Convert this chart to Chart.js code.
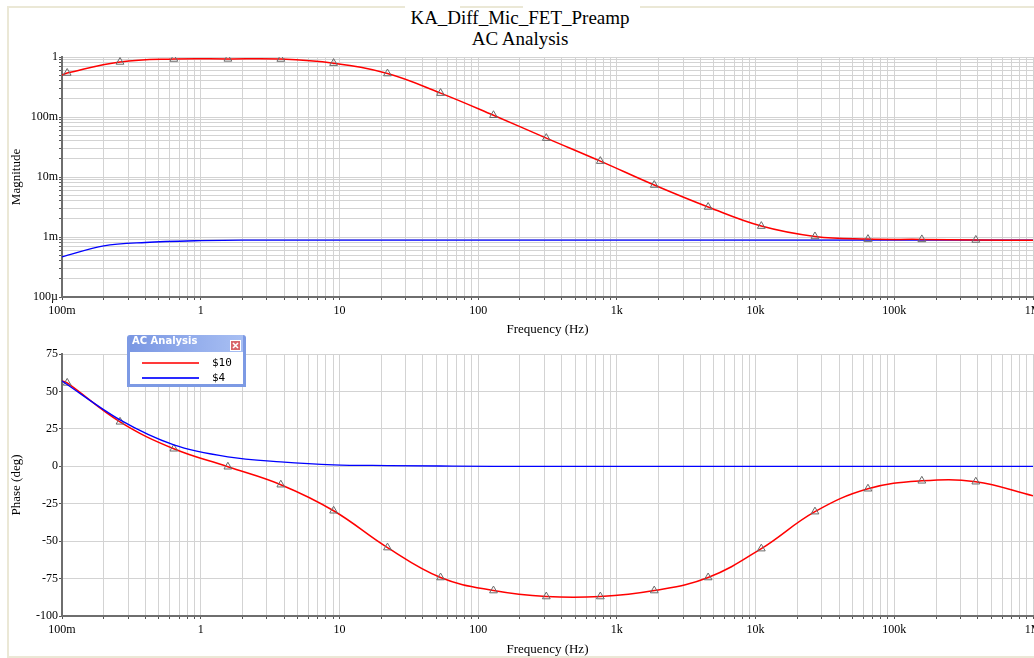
<!DOCTYPE html>
<html><head><meta charset="utf-8">
<script src="https://cdn.jsdelivr.net/npm/chart.js@4.4.1/dist/chart.umd.min.js"></script>
<style>
html,body{margin:0;padding:0;background:#fff;width:1034px;height:658px;overflow:hidden;position:relative;font-family:'Liberation Serif',serif;}
.frame{position:absolute;background:#ebe8d6;}
.title{position:absolute;left:0;width:1040px;text-align:center;font:19px 'Liberation Serif',serif;color:#000;line-height:22px;}
canvas{position:absolute;left:0;}
#leg{position:absolute;left:127px;top:335px;width:119px;height:52px;background:#7d9ae4;border-radius:3px 3px 0 0;z-index:5;}
#legT{position:absolute;left:3px;top:0;height:17px;line-height:18px;font:bold 10px 'DejaVu Sans',sans-serif;color:#fff;background:linear-gradient(to right,#7a97e3,#a8bff3);width:113px;padding-left:2px;box-sizing:border-box;}
#legX{position:absolute;left:103px;top:5px;width:11px;height:11px;background:#d8656a;border:1px solid #fff;box-sizing:border-box;}
#legB{position:absolute;left:3px;top:17px;width:113px;height:32px;background:#fff;}
.ln{position:absolute;left:12px;width:57px;height:2px;}
.lt{position:absolute;left:82px;font:11px 'DejaVu Sans Mono',monospace;color:#000;line-height:13px;}
</style></head>
<body>
<div class="frame" style="left:7px;top:6px;width:2px;height:652px;"></div>
<div class="frame" style="left:7px;top:6px;width:398px;height:2px;"></div>
<div class="frame" style="left:460px;top:6px;width:63px;height:2px;"></div>
<div class="frame" style="left:640px;top:6px;width:394px;height:2px;"></div>
<div class="frame" style="left:7px;top:656px;width:1027px;height:2px;"></div>
<div class="title" style="top:7px">KA_Diff_Mic_FET_Preamp</div>
<div class="title" style="top:28px">AC Analysis</div>
<canvas id="c1" width="1034" height="340" style="top:0"></canvas>
<canvas id="c2" width="1034" height="318" style="top:340px"></canvas>
<div id="leg">
  <div id="legT">AC Analysis</div>
  <div id="legX"><svg width="9" height="9" style="position:absolute;left:0;top:0"><path d="M2 2L7 7M7 2L2 7" stroke="#fff" stroke-width="1.6"/></svg></div>
  <div id="legB">
    <div class="ln" style="top:10px;background:#ff3a3a;"></div>
    <div class="lt" style="top:4px;">$10</div>
    <div class="ln" style="top:25px;background:#2a2aff;"></div>
    <div class="lt" style="top:19px;">$4</div>
  </div>
</div>
<script>
// ---- tick labels / positions ----
const xDecades = [0.1, 1, 10, 100, 1e3, 1e4, 1e5, 1e6];
const xDecadeLabels = ['100m', '1', '10', '100', '1k', '10k', '100k', '1M'];
const magDecades = [1e-4, 1e-3, 1e-2, 1e-1, 1];
const magDecadeLabels = ['100µ', '1m', '10m', '100m', '1'];

// ---- $10 (red) series ----
const redFreqs = [0.1, 0.109, 0.262, 0.64, 1.57, 3.78, 9.08, 22.2, 53.6, 129, 310, 760, 1860, 4550, 11000, 26800, 64600, 158000, 387000, 1000000];
const redMag = [0.50, 0.541, 0.826, 0.926, 0.93, 0.926, 0.79, 0.53, 0.25, 0.107, 0.0445, 0.0184, 0.00735, 0.00316, 0.00152, 0.00102, 0.000922, 0.000912, 0.000893, 0.00088];
const redPhase = [57, 55.7, 29.7, 11.7, -0.3, -12.3, -29.7, -54.3, -74.3, -83, -87, -87, -83, -74.3, -55, -30.3, -15, -9.7, -10.3, -19.7];
const redMarker = [false, true, true, true, true, true, true, true, true, true, true, true, true, true, true, true, true, true, true, false];

// ---- $4 (blue) series ----
const blueMagFreqs = [0.1, 0.2, 0.4, 1, 2, 10, 1000000];
const blueMag = [0.000466, 0.00071, 0.00081, 0.00087, 0.00089, 0.00089, 0.00089];
const bluePhaseFreqs = [0.1, 0.262, 0.64, 1.57, 3.78, 9.08, 22.2, 53.6, 129, 1000000];
const bluePhase = [57, 31, 14.3, 6.3, 3, 1, 0.5, 0.2, 0, 0];

function minorTicks(decs) {
  const out = [];
  for (let i = 0; i < decs.length - 1; i++) for (let k = 1; k < 10; k++) out.push(decs[i] * k);
  out.push(decs[decs.length - 1]);
  return out;
}
function labelFor(v, decs, labels) {
  for (let i = 0; i < decs.length; i++) if (Math.abs(v / decs[i] - 1) < 1e-6) return labels[i];
  return '';
}
const pts = (xs, ys) => xs.map((x, i) => ({x: x, y: ys[i]}));
const FONT = 'Liberation Serif';
const gridC = '#d3d3d3';

function xScale(h, titlePadB) {
  return {
    type: 'logarithmic', min: 0.1, max: 1e6,
    afterBuildTicks: s => { s.ticks = minorTicks(xDecades).map(v => ({value: v})); },
    afterFit: s => { s.height = h; s.paddingLeft = 0; s.paddingRight = 0; },
    ticks: {autoSkip: false, maxRotation: 0, minRotation: 0, padding: 4, color: '#000',
      font: {family: FONT, size: 12}, callback: v => labelFor(v, xDecades, xDecadeLabels)},
    grid: {color: gridC, lineWidth: 1, tickLength: 3, tickColor: '#555'},
    border: {display: true, color: '#6e6e6e', width: 2},
    title: {display: true, text: 'Frequency (Hz)', color: '#000', font: {family: FONT, size: 13}, padding: {top: 0, bottom: titlePadB}}
  };
}
function yCommon(extra) {
  return Object.assign({
    afterFit: s => { s.width = 62; s.paddingTop = 0; s.paddingBottom = 0; },
    grid: {color: gridC, lineWidth: 1, tickLength: 3, tickColor: '#555'},
    border: {display: true, color: '#6e6e6e', width: 2}
  }, extra);
}
const markerOpts = {
  pointStyle: 'triangle',
  pointRadius: redMarker.map(m => m ? 4.5 : 0),
  pointHoverRadius: 0,
  pointBorderColor: '#6a6a6a',
  pointBackgroundColor: 'rgba(0,0,0,0)',
  pointBorderWidth: 1
};

new Chart(document.getElementById('c1'), {
  type: 'line',
  data: {datasets: [
    Object.assign({label: '$10', data: pts(redFreqs, redMag), borderColor: '#ff0000', borderWidth: 1.5, tension: 0.4, order: 1}, markerOpts),
    {label: '$4', data: pts(blueMagFreqs, blueMag), borderColor: '#0000ff', borderWidth: 1.3, pointRadius: 0, cubicInterpolationMode: 'monotone', order: 2}
  ]},
  options: {
    responsive: false, animation: false, devicePixelRatio: 1,
    layout: {padding: {top: 57, right: 1, bottom: 0, left: 0}},
    plugins: {legend: {display: false}, tooltip: {enabled: false}},
    scales: {
      x: xScale(43, 3),
      y: yCommon({
        type: 'logarithmic', min: 1e-4, max: 1,
        afterBuildTicks: s => { s.ticks = minorTicks(magDecades).map(v => ({value: v})); },
        ticks: {autoSkip: false, padding: 1, color: '#000', font: {family: FONT, size: 12}, callback: v => labelFor(v, magDecades, magDecadeLabels)},
        title: {display: true, text: 'Magnitude', color: '#000', font: {family: FONT, size: 13}, padding: {top: 9, bottom: 0}}
      })
    }
  }
});

new Chart(document.getElementById('c2'), {
  type: 'line',
  data: {datasets: [
    {label: '$4', data: pts(bluePhaseFreqs, bluePhase), borderColor: '#0000ff', borderWidth: 1.3, pointRadius: 0, cubicInterpolationMode: 'monotone', order: 1},
    Object.assign({label: '$10', data: pts(redFreqs, redPhase), borderColor: '#ff0000', borderWidth: 1.5, tension: 0.4, order: 2}, markerOpts)
  ]},
  options: {
    responsive: false, animation: false, devicePixelRatio: 1,
    layout: {padding: {top: 14, right: 1, bottom: 0, left: 0}},
    plugins: {legend: {display: false}, tooltip: {enabled: false}},
    scales: {
      x: xScale(42, 1),
      y: yCommon({
        type: 'linear', min: -100, max: 75,
        ticks: {stepSize: 25, padding: 1, color: '#000', font: {family: FONT, size: 12}},
        title: {display: true, text: 'Phase (deg)', color: '#000', font: {family: FONT, size: 13}, padding: {top: 9, bottom: 0}}
      })
    }
  }
});
</script>
</body></html>
